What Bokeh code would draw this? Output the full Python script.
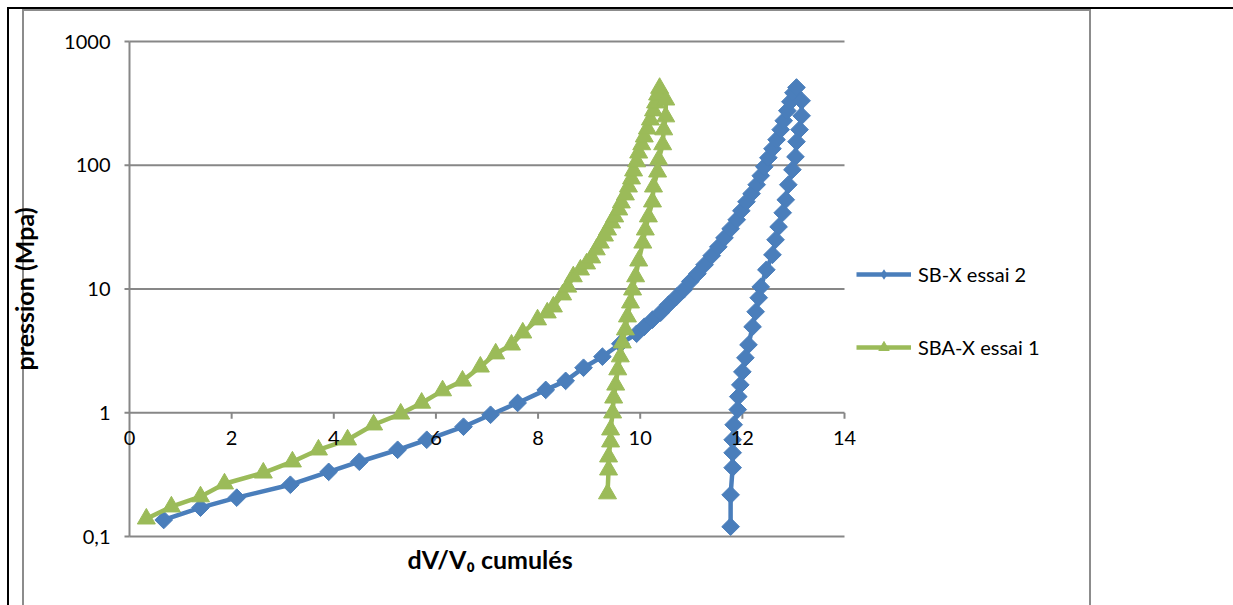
import math
from bokeh.plotting import figure
from bokeh.models import FixedTicker, Legend, LegendItem, LabelSet, ColumnDataSource, Title
from bokeh.core.properties import value
from bokeh.embed import file_html
from bokeh.resources import INLINE

# ---- data ----
# SB-X essai 2 : loading branch then unloading branch
sbx_x = [0.67, 1.39, 2.10, 3.15, 3.90, 4.50, 5.25, 5.82, 6.54, 7.07, 7.60, 8.15, 8.54, 8.89,
         9.26, 9.61, 9.93, 10.08, 10.24, 10.40, 10.55, 10.71, 10.85, 10.98, 11.12, 11.26,
         11.40, 11.53, 11.65, 11.77, 11.89, 11.98, 12.08, 12.18, 12.28, 12.36, 12.43, 12.51,
         12.59, 12.67, 12.75, 12.81, 12.88, 12.94, 13.00, 13.06,
         13.16, 13.16, 13.12, 13.06, 13.04, 12.98, 12.90, 12.85, 12.79, 12.71, 12.65, 12.59,
         12.47, 12.36, 12.32, 12.26, 12.20, 12.12, 12.06, 12.00, 11.96, 11.92, 11.91, 11.83,
         11.81, 11.81, 11.81, 11.77, 11.77]
sbx_p = [0.136, 0.171, 0.206, 0.262, 0.333, 0.402, 0.502, 0.605, 0.771, 0.963, 1.20, 1.53, 1.81, 2.31,
         2.84, 3.61, 4.35, 4.95, 5.65, 6.43, 7.46, 8.65, 9.86, 11.5, 13.3, 15.7,
         18.6, 21.9, 25.9, 30.7, 36.3, 42.9, 50.7, 58.9, 69.6, 82.3, 97.3, 115,
         136, 161, 194, 229, 276, 326, 385, 425,
         332, 251, 194, 155, 117, 92, 69.6, 52.6, 41.3, 31.8, 25.0, 18.9,
         14.3, 10.4, 8.50, 6.55, 4.95, 3.54, 2.78, 2.14, 1.68, 1.35, 1.06, 0.80,
         0.605, 0.475, 0.36, 0.217, 0.12]

# SBA-X essai 1 : loading branch then unloading branch
sba_x = [0.33, 0.82, 1.39, 1.86, 2.62, 3.19, 3.70, 4.27, 4.78, 5.31, 5.72, 6.13, 6.52, 6.87,
         7.17, 7.48, 7.70, 7.99, 8.18, 8.30, 8.48, 8.58, 8.69, 8.83, 8.95, 9.05, 9.14, 9.22,
         9.30, 9.36, 9.44, 9.50, 9.58, 9.63, 9.71, 9.77, 9.83, 9.87, 9.93, 9.97, 10.03, 10.08,
         10.14, 10.20, 10.26, 10.30, 10.34, 10.38,
         10.50, 10.50, 10.46, 10.44, 10.36, 10.34, 10.26, 10.24, 10.16, 10.10, 10.05, 9.97,
         9.91, 9.85, 9.81, 9.75, 9.71, 9.65, 9.61, 9.56, 9.52, 9.48, 9.46, 9.42, 9.42, 9.38,
         9.38, 9.36]
sba_p = [0.139, 0.174, 0.210, 0.267, 0.327, 0.402, 0.502, 0.605, 0.80, 0.98, 1.20, 1.51, 1.81, 2.35,
         3.00, 3.54, 4.43, 5.65, 6.43, 7.19, 8.99, 10.4, 12.6, 14.3, 16.0, 17.9, 20.8, 23.6,
         26.9, 30.1, 34.3, 38.4, 43.7, 49.8, 57.8, 67.0, 77.8, 90.3, 107, 126, 147, 170,
         197, 233, 276, 320, 371, 420,
         338, 247, 194, 147, 111, 88.5, 67.0, 50.7, 38.4, 30.1, 23.6, 16.9,
         12.6, 9.86, 7.74, 5.97, 4.69, 3.68, 2.84, 2.23, 1.68, 1.32, 1.00, 0.729, 0.583, 0.441,
         0.346, 0.222]

series_names = ["SB-X essai 2", "SBA-X essai 1"]
x_ticks = [0, 2, 4, 6, 8, 10, 12, 14]
x_tick_labels = ["0", "2", "4", "6", "8", "10", "12", "14"]
y_ticks = [0.1, 1, 10, 100, 1000]
y_tick_labels = ["0,1", "1", "10", "100", "1000"]
x_title = "dV/V\u2080 cumulés"
y_title = "pression (Mpa)"

# ---- style / layout ----
BLUE = "#4A7EBB"
GREEN = "#9BBB59"
GRID = "#878787"
FONT = "Lato"
W, H = 1233, 605
# plot area of the axes (pixels): x 0..14 -> 129..844, y 1000..0.1 -> 41..536
PXU = (844 - 129) / 14.0            # px per x unit
PXD = (536 - 41) / 4.0              # px per decade
F_LEFT, F_RIGHT, F_TOP, F_BOTTOM = 114, 1080, 39, 538   # drawing frame (wider, invisible)
x_lo = x_ticks[0] - (129 - F_LEFT) / PXU
x_hi = x_ticks[-1] + (F_RIGHT - 844) / PXU
y_lo = y_ticks[0] / 10 ** ((F_BOTTOM - 536) / PXD)
y_hi = y_ticks[-1] * 10 ** ((41 - F_TOP) / PXD)

page_bg = ("linear-gradient(#8c8c8c,#8c8c8c), linear-gradient(#8c8c8c,#8c8c8c), "
           "linear-gradient(#8c8c8c,#8c8c8c), linear-gradient(#000,#000), linear-gradient(#000,#000)")

p = figure(width=W, height=H, x_range=(x_lo, x_hi), y_range=(y_lo, y_hi), y_axis_type="log",
           output_backend="svg", toolbar_location=None,
           min_border_left=F_LEFT, min_border_right=W - F_RIGHT, min_border_top=F_TOP,
           min_border_bottom=H - F_BOTTOM,
           styles={"background-color": "white",
                   "background-image": page_bg,
                   "background-position": "22px 9px, 22px 9px, 1089px 9px, 7px 7px, 7px 7px",
                   "background-size": "1069px 2px, 2px calc(100% - 9px), 2px calc(100% - 9px), "
                                      "calc(100% - 7px) 2px, 2px calc(100% - 7px)",
                   "background-repeat": "no-repeat"})
p.outline_line_color = None
p.background_fill_alpha = 0
p.border_fill_alpha = 0
p.xgrid.grid_line_color = None
p.ygrid.grid_line_color = None

# y axis: labels + title from the real axis, line/ticks drawn at x = 0
p.yaxis.ticker = FixedTicker(ticks=y_ticks, minor_ticks=[])
p.yaxis.major_label_overrides = {t: l for t, l in zip(y_ticks, y_tick_labels)}
p.yaxis.axis_line_color = None
p.yaxis.major_tick_line_color = None
p.yaxis.minor_tick_line_color = None
p.yaxis.major_tick_out = 0
p.yaxis.major_tick_in = 0
p.yaxis.major_label_standoff = 4
p.yaxis.major_label_text_font = FONT
p.yaxis.major_label_text_font_size = "20px"
p.yaxis.major_label_text_color = "black"
p.yaxis.axis_label = y_title
p.yaxis.axis_label_text_font = FONT
p.yaxis.axis_label_text_font_style = "bold"
p.yaxis.axis_label_text_font_size = "25px"
p.yaxis.axis_label_text_color = "black"
p.yaxis.axis_label_standoff = 22

# bottom: the x title, placed under the 0..14 axis span
p.xaxis.visible = False
p.add_layout(Title(text=x_title, align="left", offset=407 - F_LEFT, vertical_align="top",
                   standoff=10, text_font=FONT, text_font_style="bold",
                   text_font_size="25px", text_color="black"), "below")

# horizontal gridlines (0..14) and vertical axis line at x = 0
n_y = len(y_ticks)
p.segment(x0=[x_ticks[0]] * n_y, x1=[x_ticks[-1]] * n_y, y0=y_ticks, y1=y_ticks,
          line_color=GRID, line_width=2)
p.segment(x0=[x_ticks[0]], x1=[x_ticks[0]], y0=[y_ticks[0]], y1=[y_ticks[-1]],
          line_color=GRID, line_width=2)
p.ray(x=[x_ticks[0]] * n_y, y=y_ticks, length=5, length_units="screen", angle=math.pi,
      line_color=GRID, line_width=2)

# x axis crossing at y = 1: ticks + labels
p.ray(x=x_ticks[1:], y=[1] * (len(x_ticks) - 1), length=6, length_units="screen",
      angle=-math.pi / 2, line_color=GRID, line_width=2)
tick_src = ColumnDataSource(dict(x=x_ticks, y=[1] * len(x_ticks), t=x_tick_labels))
p.add_layout(LabelSet(x="x", y="y", text="t", source=tick_src, text_align="center",
                      text_baseline="top", y_offset=-18, text_font=value(FONT),
                      text_font_size="20px", text_color="black"))

# series
l1 = p.line(sbx_x, sbx_p, line_color=BLUE, line_width=4.5)
s1 = p.scatter(sbx_x, sbx_p, marker="square", angle=math.pi / 4, size=12.5,
               fill_color=BLUE, line_color=BLUE)
k1 = p.scatter(sbx_x, sbx_p, marker="diamond", size=0, fill_color=BLUE, line_color=None)
l2 = p.line(sba_x, sba_p, line_color=GREEN, line_width=4.5)
s2 = p.scatter(sba_x, sba_p, marker="triangle", size=18, fill_color=GREEN, line_color=GREEN)

legend = Legend(items=[LegendItem(label=series_names[0], renderers=[l1, k1]),
                       LegendItem(label=series_names[1], renderers=[l2, s2])],
                location=(742, F_BOTTOM - 360), orientation="vertical", spacing=47,
                glyph_width=55, glyph_height=26, label_height=26, label_standoff=7,
                padding=0, margin=0, border_line_color=None, background_fill_alpha=0,
                label_text_font=FONT, label_text_font_size="20px", label_text_color="black")
p.add_layout(legend)

open("out.html", "w").write(file_html(p, INLINE))
